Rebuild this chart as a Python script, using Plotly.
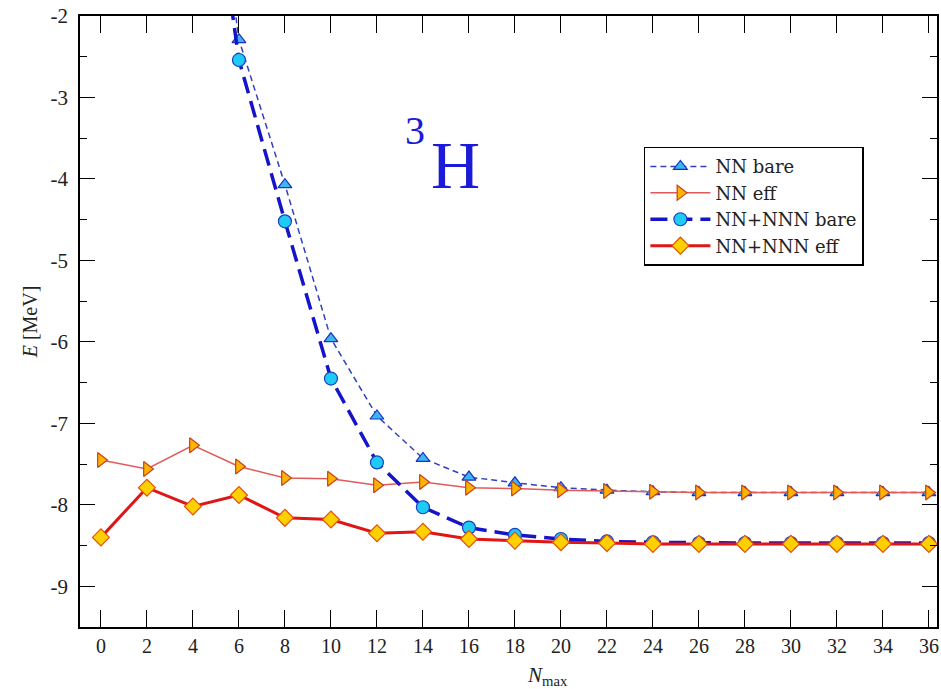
import plotly.graph_objects as go

# Model-space size N_max
n_all = [0, 2, 4, 6, 8, 10, 12, 14, 16, 18, 20, 22, 24, 26, 28, 30, 32, 34, 36]
n_bare = [4, 6, 8, 10, 12, 14, 16, 18, 20, 22, 24, 26, 28, 30, 32, 34, 36]

# 3H ground-state energies [MeV]
nn_bare = [2.0, -2.29, -4.07, -5.96, -6.91, -7.43, -7.66, -7.73, -7.79, -7.82,
           -7.84, -7.85, -7.85, -7.85, -7.85, -7.85, -7.85]
nn_eff = [-7.45, -7.56, -7.27, -7.53, -7.67, -7.68, -7.76, -7.72, -7.79, -7.80,
          -7.82, -7.83, -7.84, -7.85, -7.85, -7.85, -7.85, -7.85, -7.85]
nnn_bare = [1.5, -2.54, -4.52, -6.45, -7.48, -8.03, -8.28, -8.37, -8.42, -8.45,
            -8.46, -8.47, -8.47, -8.47, -8.47, -8.47, -8.47]
nnn_eff = [-8.40, -7.79, -8.02, -7.88, -8.16, -8.18, -8.35, -8.33, -8.42, -8.44,
           -8.46, -8.47, -8.48, -8.48, -8.48, -8.48, -8.48, -8.48, -8.48]

y_ticks = [-9, -8, -7, -6, -5, -4, -3, -2]
y_tick_text = ["-9", "-8", "-7", "-6", "-5", "-4", "-3", "-2"]
x_ticks = list(range(0, 37, 2))

SERIF = "'Liberation Serif', 'Times New Roman', Times, serif"
WIDE_SERIF = "'DejaVu Serif', serif"
TEXT = "#222222"
BLUE_LABEL = "#1a1ad8"

fig = go.Figure()

fig.add_trace(go.Scatter(
    x=n_bare, y=nn_bare, name="NN bare", mode="lines+markers",
    line=dict(color="#3040c0", width=1.5, dash="6px,4px"),
    marker=dict(symbol="triangle-up", size=12, color="#3ab6f0",
                line=dict(color="#1a30c0", width=1.2)),
))
fig.add_trace(go.Scatter(
    x=n_all, y=nn_eff, name="NN eff", mode="lines+markers",
    line=dict(color="#e05a5a", width=1.5),
    marker=dict(symbol="triangle-right", size=13, color="#ffb400",
                line=dict(color="#c8401a", width=1.2)),
))
fig.add_trace(go.Scatter(
    x=n_bare, y=nnn_bare, name="NN+NNN bare", mode="lines+markers",
    line=dict(color="#1414c8", width=3.5, dash="17px,8px"),
    marker=dict(symbol="circle", size=13, color="#1ecbf5",
                line=dict(color="#1a40c0", width=1.2)),
))
fig.add_trace(go.Scatter(
    x=n_all, y=nnn_eff, name="NN+NNN eff", mode="lines+markers",
    line=dict(color="#e01515", width=3),
    marker=dict(symbol="diamond", size=13, color="#ffd000",
                line=dict(color="#e05010", width=1.2)),
))

# Nucleus label: mass number as a raised small numeral before the symbol
fig.add_annotation(x=13.65, y=-3.41, xref="x", yref="y", text="3",
                   showarrow=False, xanchor="center", yanchor="middle",
                   font=dict(family=SERIF, size=40, color=BLUE_LABEL))
fig.add_annotation(x=15.4, y=-3.83, xref="x", yref="y", text="H",
                   showarrow=False, xanchor="center", yanchor="middle",
                   font=dict(family=SERIF, size=68, color=BLUE_LABEL))

# x-axis title
fig.add_annotation(x=0.545, y=-0.055, xref="paper", yref="paper",
                   text="<i>N</i><sub>max</sub>", showarrow=False,
                   xanchor="center", yanchor="top",
                   font=dict(family=SERIF, size=21, color=TEXT))

fig.update_layout(
    width=941, height=689,
    margin=dict(l=80, r=2, t=16, b=62),
    paper_bgcolor="white", plot_bgcolor="white",
    font=dict(family=SERIF, size=17, color=TEXT),
    showlegend=True,
    legend=dict(
        x=0.658, y=0.786, xanchor="left", yanchor="top",
        bgcolor="white", bordercolor="black", borderwidth=1.5,
        font=dict(family=WIDE_SERIF, size=18, color=TEXT),
        tracegroupgap=0, itemwidth=60,
    ),
)

fig.update_xaxes(
    range=[-0.91, 36.35], tickvals=x_ticks,
    showline=True, linecolor="black", linewidth=1.5, mirror="ticks",
    ticks="inside", ticklen=17, tickwidth=1.3, tickcolor="black",
    showgrid=False, zeroline=False,
    tickfont=dict(family=SERIF, size=20, color=TEXT),
)
fig.update_yaxes(
    range=[-9.5, -2.0], tickvals=y_ticks, ticktext=y_tick_text,
    showline=True, linecolor="black", linewidth=1.5, mirror="ticks",
    ticks="inside", ticklen=15, tickwidth=1.3, tickcolor="black",
    minor=dict(dtick=0.5, ticks="inside", ticklen=7, tickwidth=1.3,
               tickcolor="black"),
    showgrid=False, zeroline=False,
    tickfont=dict(family=SERIF, size=21, color=TEXT),
    ticklabelstandoff=6,
    title=dict(text="<i>E</i> [MeV]", standoff=8,
               font=dict(family=SERIF, size=20, color=TEXT)),
)

fig.write_html("out.html")
